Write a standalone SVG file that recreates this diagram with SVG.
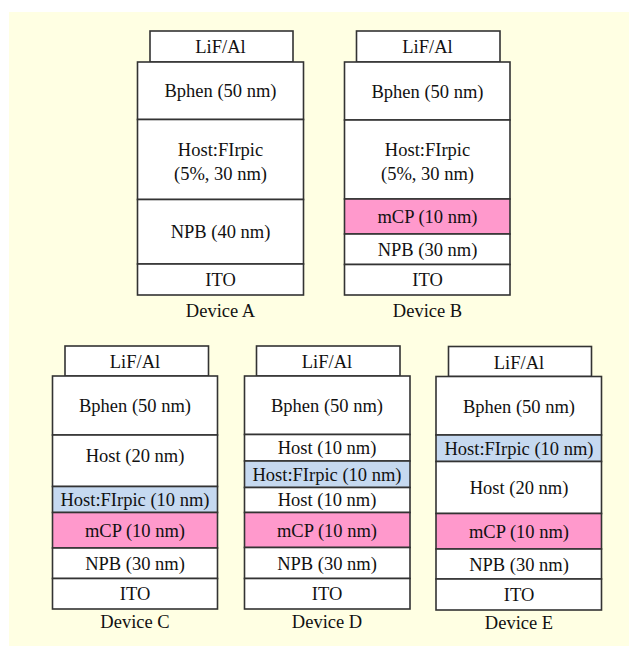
<svg xmlns="http://www.w3.org/2000/svg" width="629" height="646" viewBox="0 0 629 646">
<style>
.l{stroke:#333;stroke-width:1.6;fill:#fff}
.p{fill:#FF99CC}
.b{fill:#C6D9F0}
text{font-family:'Liberation Serif', 'Times New Roman', Times, serif;font-size:18.5px;fill:#111;text-anchor:middle}
</style>
<rect x="9" y="12" width="620" height="634" fill="#FFFFE3"/>
<g id="deviceA">
<rect class="l" x="150" y="31" width="143" height="31"/>
<rect class="l" x="137.5" y="62" width="166" height="57.5"/>
<rect class="l" x="137.5" y="119.5" width="166" height="80"/>
<rect class="l" x="137.5" y="199.5" width="166" height="64.5"/>
<rect class="l" x="137.5" y="264" width="166" height="31"/>
<text font-family="Liberation Serif, serif" x="220.5" y="53">LiF/Al</text>
<text font-family="Liberation Serif, serif" x="220.5" y="97">Bphen (50 nm)</text>
<text font-family="Liberation Serif, serif" x="220.5" y="156">Host:FIrpic</text>
<text font-family="Liberation Serif, serif" x="220.5" y="180">(5%, 30 nm)</text>
<text font-family="Liberation Serif, serif" x="220.5" y="238">NPB (40 nm)</text>
<text font-family="Liberation Serif, serif" x="220.5" y="286">ITO</text>
<text font-family="Liberation Serif, serif" x="220.5" y="317">Device A</text>
</g>
<g id="deviceB" font-family="Liberation Serif, serif">
<rect class="l" x="356.5" y="31" width="143.5" height="31"/>
<rect class="l" x="344.5" y="62" width="165.5" height="58"/>
<rect class="l" x="344.5" y="120" width="165.5" height="79"/>
<rect class="l p" x="344.5" y="199" width="165.5" height="35"/>
<rect class="l" x="344.5" y="234" width="165.5" height="30.5"/>
<rect class="l" x="344.5" y="264.5" width="165.5" height="30.5"/>
<text x="427.5" y="53">LiF/Al</text>
<text x="427.5" y="97.5">Bphen (50 nm)</text>
<text x="427.5" y="156">Host:FIrpic</text>
<text x="427.5" y="180">(5%, 30 nm)</text>
<text x="427.5" y="223">mCP (10 nm)</text>
<text x="427.5" y="256">NPB (30 nm)</text>
<text x="427.5" y="286">ITO</text>
<text x="427.5" y="317">Device B</text>
</g>
<g id="deviceC">
<rect class="l" x="65" y="346" width="143.5" height="30"/>
<rect class="l" x="52.5" y="376" width="165" height="59"/>
<rect class="l" x="52.5" y="435" width="165" height="51.5"/>
<rect class="l b" x="52.5" y="486.5" width="165" height="26"/>
<rect class="l p" x="52.5" y="512.5" width="165" height="35.5"/>
<rect class="l" x="52.5" y="548" width="165" height="30.5"/>
<rect class="l" x="52.5" y="578.5" width="165" height="30.5"/>
<text x="135" y="368">LiF/Al</text>
<text x="135" y="412">Bphen (50 nm)</text>
<text x="135" y="462">Host (20 nm)</text>
<text x="135" y="506">Host:FIrpic (10 nm)</text>
<text x="135" y="537">mCP (10 nm)</text>
<text x="135" y="570">NPB (30 nm)</text>
<text x="135" y="600">ITO</text>
<text x="135" y="628">Device C</text>
</g>
<g id="deviceD">
<rect class="l" x="256.5" y="346" width="143.5" height="30"/>
<rect class="l" x="244.5" y="376" width="165.5" height="58.5"/>
<rect class="l" x="244.5" y="434.5" width="165.5" height="26.5"/>
<rect class="l b" x="244.5" y="461" width="165.5" height="26.5"/>
<rect class="l" x="244.5" y="487.5" width="165.5" height="25"/>
<rect class="l p" x="244.5" y="512.5" width="165.5" height="35"/>
<rect class="l" x="244.5" y="547.5" width="165.5" height="31"/>
<rect class="l" x="244.5" y="578.5" width="165.5" height="30.5"/>
<text x="327" y="368">LiF/Al</text>
<text x="327" y="412">Bphen (50 nm)</text>
<text x="327" y="454">Host (10 nm)</text>
<text x="327" y="480.5">Host:FIrpic (10 nm)</text>
<text x="327" y="506">Host (10 nm)</text>
<text x="327" y="536.5">mCP (10 nm)</text>
<text x="327" y="569.5">NPB (30 nm)</text>
<text x="327" y="600">ITO</text>
<text x="327" y="628">Device D</text>
</g>
<g id="deviceE">
<rect class="l" x="448.5" y="346.5" width="143" height="30"/>
<rect class="l" x="436" y="376.5" width="165.5" height="58.5"/>
<rect class="l b" x="436" y="435" width="165.5" height="26.5"/>
<rect class="l" x="436" y="461.5" width="165.5" height="52"/>
<rect class="l p" x="436" y="513.5" width="165.5" height="35.5"/>
<rect class="l" x="436" y="549" width="165.5" height="30"/>
<rect class="l" x="436" y="579" width="165.5" height="31"/>
<text x="519" y="368.5">LiF/Al</text>
<text x="519" y="413">Bphen (50 nm)</text>
<text x="519" y="455">Host:FIrpic (10 nm)</text>
<text x="519" y="494">Host (20 nm)</text>
<text x="519" y="538">mCP (10 nm)</text>
<text x="519" y="571">NPB (30 nm)</text>
<text x="519" y="601">ITO</text>
<text x="519" y="629">Device E</text>
</g>
<g id="connectors"/>
</svg>
